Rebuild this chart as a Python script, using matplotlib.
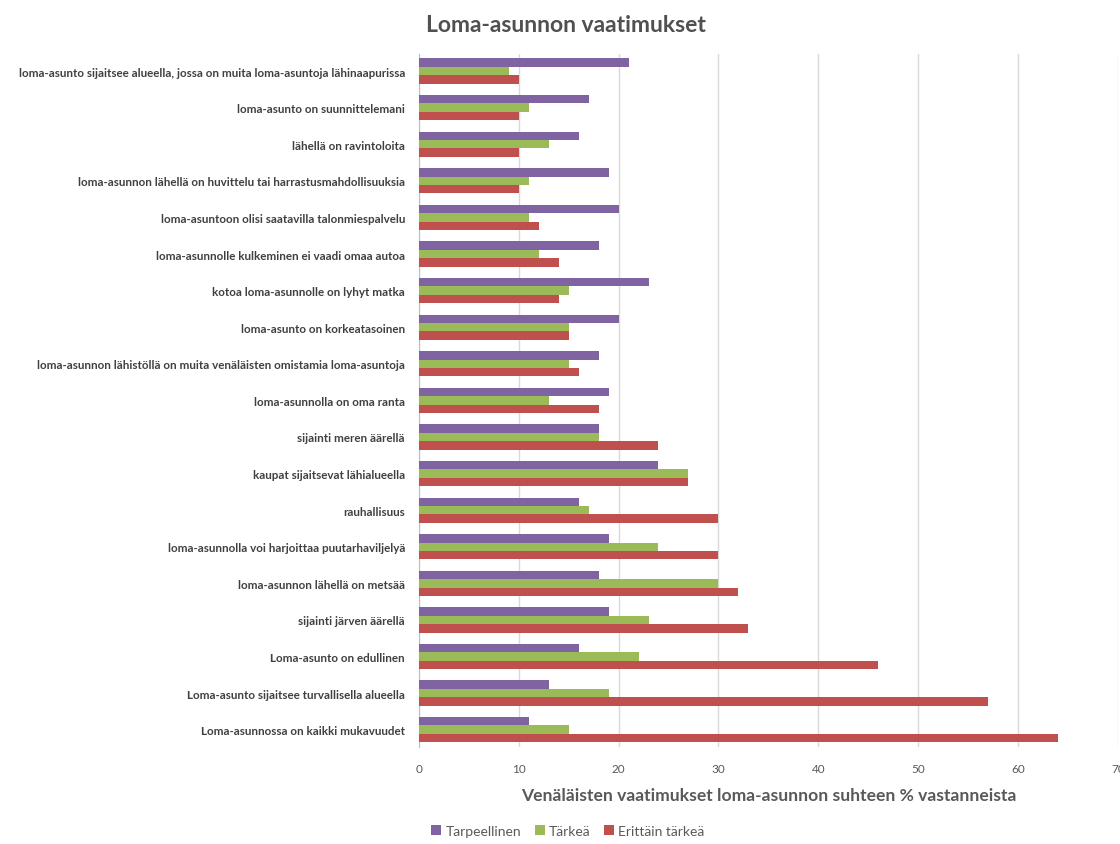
import matplotlib.pyplot as plt
import numpy as np

plt.rcParams['font.family'] = ['Lato', 'DejaVu Sans']

# Categories listed top to bottom as they appear in the chart
categories = [
    'loma-asunto sijaitsee alueella, jossa on muita loma-asuntoja lähinaapurissa',
    'loma-asunto on suunnittelemani',
    'lähellä on ravintoloita',
    'loma-asunnon lähellä on huvittelu tai harrastusmahdollisuuksia',
    'loma-asuntoon olisi saatavilla talonmiespalvelu',
    'loma-asunnolle kulkeminen ei vaadi omaa autoa',
    'kotoa loma-asunnolle on lyhyt matka',
    'loma-asunto on korkeatasoinen',
    'loma-asunnon lähistöllä on muita venäläisten omistamia loma-asuntoja',
    'loma-asunnolla on oma ranta',
    'sijainti meren äärellä',
    'kaupat sijaitsevat lähialueella',
    'rauhallisuus',
    'loma-asunnolla voi harjoittaa puutarhaviljelyä',
    'loma-asunnon lähellä on metsää',
    'sijainti järven äärellä',
    'Loma-asunto on edullinen',
    'Loma-asunto sijaitsee turvallisella alueella',
    'Loma-asunnossa on kaikki mukavuudet',
]
tarpeellinen = [21, 17, 16, 19, 20, 18, 23, 20, 18, 19, 18, 24, 16, 19, 18, 19, 16, 13, 11]
tarkea = [9, 11, 13, 11, 11, 12, 15, 15, 15, 13, 18, 27, 17, 24, 30, 23, 22, 19, 15]
erittain = [10, 10, 10, 10, 12, 14, 14, 15, 16, 18, 24, 27, 30, 30, 32, 33, 46, 57, 64]

series = [('Tarpeellinen', tarpeellinen, '#8064A2'),
          ('Tärkeä', tarkea, '#9BBB59'),
          ('Erittäin tärkeä', erittain, '#C0504D')]

fig = plt.figure(figsize=(11.2, 8.45), dpi=100)
ax = fig.add_axes([0.374, 0.115, 0.624, 0.82])

n = len(categories)
y = np.arange(n)[::-1]
h = 0.23
for i, (name, vals, col) in enumerate(series):
    ax.barh(y + (1 - i) * h, vals, height=h, color=col, label=name, zorder=3)

ax.set_yticks(y)
ax.set_yticklabels(categories, fontsize=8.4, color='#404040', fontweight='bold')
ax.set_ylim(-0.47, n - 1 + 0.47)
ax.set_xlim(0, 70)
ax.set_xticks(range(0, 71, 10))
ax.tick_params(axis='x', length=0, labelsize=8.5, colors='#595959', pad=12)
ax.tick_params(axis='y', length=0, pad=10)
ax.grid(axis='x', color='#D9D9D9', linewidth=1, zorder=0)
for s in ['top', 'right', 'bottom']:
    ax.spines[s].set_visible(False)
ax.spines['left'].set_color('#BFBFBF')

ax.set_xlabel('Venäläisten vaatimukset loma-asunnon suhteen % vastanneista',
              fontsize=12.6, fontweight='bold', color='#595959', labelpad=9)
fig.text(0.505, 0.97, 'Loma-asunnon vaatimukset', ha='center', va='center',
         fontsize=16.5, fontweight='bold', color='#505050')

leg = ax.legend(loc='upper left', bbox_to_anchor=(0.0, -0.095), ncol=3, frameon=False,
                fontsize=10, handlelength=0.7, handleheight=0.7, handletextpad=0.3,
                columnspacing=1.0)
for t in leg.get_texts():
    t.set_color('#595959')

fig.savefig('out.png', dpi=100, facecolor='white')
